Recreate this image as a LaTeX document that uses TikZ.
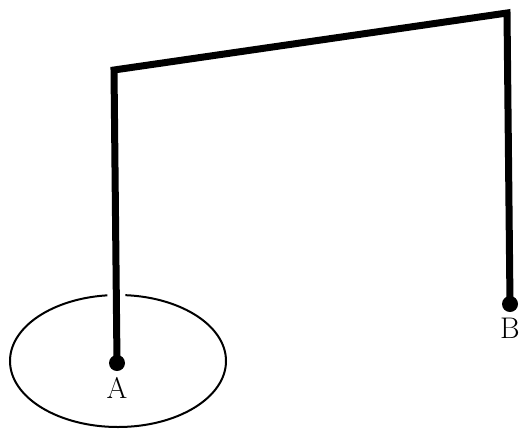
\documentclass[tikz,border=0pt]{standalone}
\usepackage{tikz}
\usetikzlibrary{positioning, backgrounds}

\begin{document}
\begin{tikzpicture}[
        x=0.02cm, y=-0.02cm,
        pole/.style={line width=0.14cm, line join=miter, preaction={draw=white, line width=0.36cm}},
        post/.style={circle, fill=black, inner sep=0pt, minimum size=0.32cm},
        tag/.style={font=\fontsize{17}{20}\selectfont}
    ]
    \useasboundingbox (0,0) rectangle (523,433);

    \coordinate (bendL) at (114,70);
    \coordinate (bendR) at (507,13);
    \node[post] (A) at (117,363) {};
    \node[post] (B) at (510,304) {};
    \node[tag, below=0pt of A] (labA) {A};
    \node[tag, below=0pt of B] (labB) {B};

    % ground ring and wire go under the posts
    \begin{scope}[on background layer]
        \draw[line width=0.04cm] (118,361) ellipse [x radius=108, y radius=66];
        \draw[pole] (A.center) -- (bendL) -- (bendR) -- (B.center);
    \end{scope}
    \end{tikzpicture}
\end{document}
